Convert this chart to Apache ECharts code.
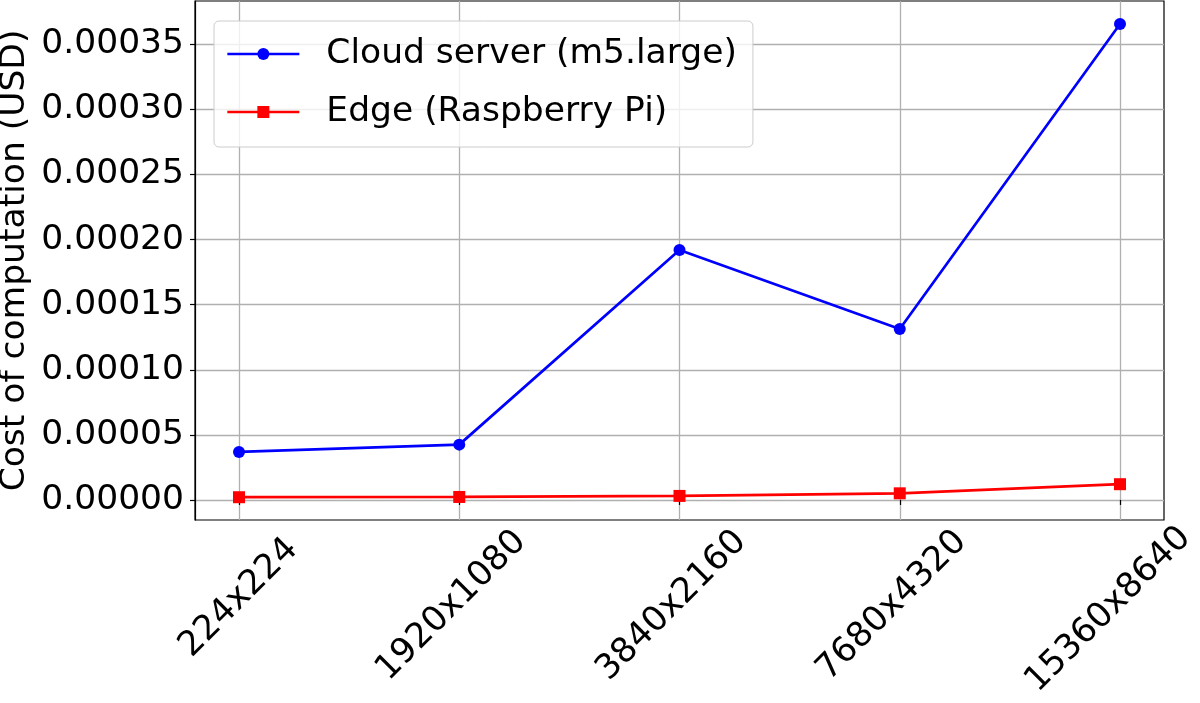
<!DOCTYPE html>
<html>
<head>
<meta charset="utf-8">
<script src="https://cdn.jsdelivr.net/npm/echarts@6/dist/echarts.min.js"></script>
<style>
html,body{margin:0;padding:0;background:#fff;}
#chart{width:1200px;height:703px;}
</style>
</head>
<body>
<div id="chart"></div>
<script>
const categories = ['224x224', '1920x1080', '3840x2160', '7680x4320', '15360x8640'];
const cloudCost = [0.0000369, 0.0000425, 0.000192, 0.0001313, 0.0003656];
const edgeCost = [0.0000021, 0.0000023, 0.0000031, 0.0000051, 0.0000121];
const yTicks = [0, 0.00005, 0.0001, 0.00015, 0.0002, 0.00025, 0.0003, 0.00035];
const seriesNames = ['Cloud server (m5.large)', 'Edge (Raspberry Pi)'];
const yName = 'Cost of computation (USD)';
const yMin = -0.0000154;
const yMax = 0.0003833;

const FONT = '"DejaVu Sans", sans-serif';
const FS = 34.5;

// measure label widths so the rotated labels are centred like matplotlib (ha=center)
const cv = document.createElement('canvas');
const ctx = cv.getContext('2d');
ctx.font = FS + 'px "DejaVu Sans"';
const widths = categories.map(c => ctx.measureText(c).width);
const w0 = widths[0];

const xData = categories.map((c, i) => {
  const P = Math.max(0, (widths[i] - w0) / 2);
  return {
    value: c,
    textStyle: {
      align: 'center',
      verticalAlign: 'middle',
      padding: [P, P, 0, 0],
      fontSize: FS,
      fontFamily: FONT,
      color: '#000'
    }
  };
});

const chart = echarts.init(document.getElementById('chart'), null, {renderer: 'canvas'});
const gridCommon = {top: 1, bottom: 183, containLabel: false, outerBoundsMode: 'none'};

chart.setOption({
  animation: false,
  backgroundColor: '#fff',
  grid: [
    Object.assign({left: 195, right: 36, show: true, borderColor: '#000', borderWidth: 1.2, backgroundColor: 'transparent'}, gridCommon),
    Object.assign({left: 239, right: 80, show: false}, gridCommon)
  ],
  graphic: [{
    type: 'text',
    x: 15,
    y: 260.5,
    rotation: Math.PI / 2,
    style: {text: yName, fontSize: FS, fontFamily: FONT, fill: '#000', align: 'center', verticalAlign: 'middle'}
  }],
  legend: {
    orient: 'vertical',
    left: 214,
    top: 21,
    itemWidth: 72,
    itemHeight: 15,
    itemGap: 18,
    padding: [13, 16, 15, 12],
    backgroundColor: 'rgba(255,255,255,0.8)',
    borderColor: '#cccccc',
    borderWidth: 1,
    borderRadius: 5,
    lineStyle: {width: 2.7},
    textStyle: {fontSize: FS, fontFamily: FONT, color: '#000', lineHeight: 40, padding: [0, 0, 0, 22]},
    data: seriesNames
  },
  xAxis: [
    {gridIndex: 0, type: 'value', min: 0, max: 1, show: false},
    {
      gridIndex: 1,
      type: 'category',
      boundaryGap: false,
      data: xData,
      axisLine: {show: false},
      axisTick: {show: true, inside: false, length: 5, lineStyle: {color: '#000', width: 1.2}},
      axisLabel: {interval: 0, rotate: 45, margin: 78, align: 'center', verticalAlign: 'middle', fontSize: FS, fontFamily: FONT, color: '#000'},
      splitLine: {show: true, interval: 0, lineStyle: {color: '#b0b0b0', width: 1.3}}
    }
  ],
  yAxis: [
    {
      gridIndex: 0,
      type: 'value',
      min: yMin,
      max: yMax,
      axisLine: {show: true, lineStyle: {color: '#000', width: 1.2}},
      axisTick: {show: true, inside: false, length: 5, customValues: yTicks, lineStyle: {color: '#000', width: 1.2}},
      axisLabel: {customValues: yTicks, margin: 11, fontSize: FS, fontFamily: FONT, color: '#000', formatter: v => v.toFixed(5)},
      splitLine: {show: true, lineStyle: {color: '#b0b0b0', width: 1.3}}
    },
    {gridIndex: 1, type: 'value', min: yMin, max: yMax, show: false, splitLine: {show: false}}
  ],
  series: [
    {
      name: seriesNames[0],
      type: 'line',
      xAxisIndex: 1,
      yAxisIndex: 1,
      data: cloudCost,
      symbol: 'circle',
      symbolSize: 12,
      showAllSymbol: true,
      lineStyle: {color: '#0000ff', width: 2.7},
      itemStyle: {color: '#0000ff'},
      z: 5
    },
    {
      name: seriesNames[1],
      type: 'line',
      xAxisIndex: 1,
      yAxisIndex: 1,
      data: edgeCost,
      symbol: 'rect',
      symbolSize: 12,
      showAllSymbol: true,
      lineStyle: {color: '#ff0000', width: 2.7},
      itemStyle: {color: '#ff0000'},
      z: 5
    }
  ]
});
</script>
</body>
</html>
